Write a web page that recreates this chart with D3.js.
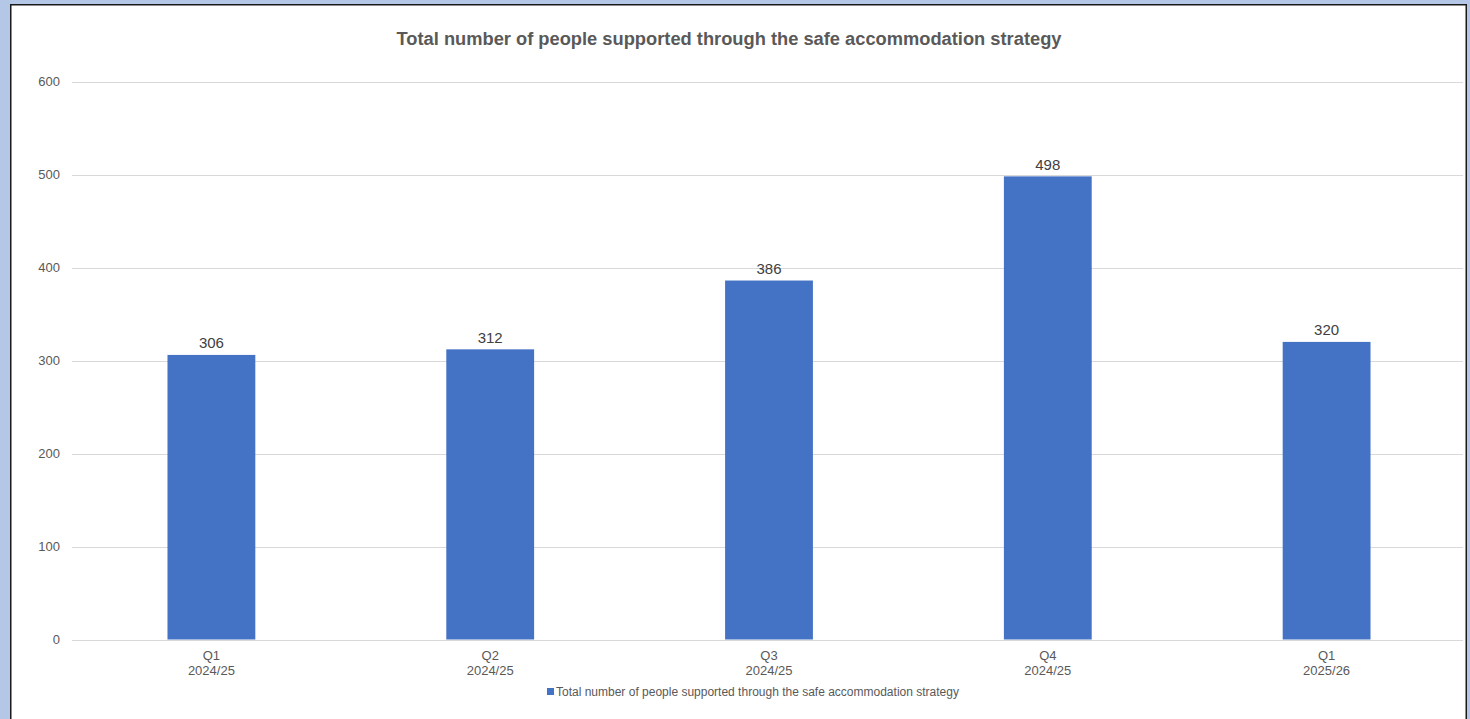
<!DOCTYPE html>
<html>
<head>
<meta charset="utf-8">
<script src="https://cdn.jsdelivr.net/npm/d3@7"></script>
<style>
  html, body { margin: 0; padding: 0; background: #b4c7e7; }
  svg { display: block; }
</style>
</head>
<body>
<svg id="chart"></svg>
<script>
// chart values
let categories = ['Q1 2024/25', 'Q2 2024/25', 'Q3 2024/25', 'Q4 2024/25', 'Q1 2025/26']
let values = [306, 312, 386, 498, 320]
let yTicks = [0, 100, 200, 300, 400, 500, 600]
let title = 'Total number of people supported through the safe accommodation strategy'
let seriesName = 'Total number of people supported through the safe accommodation strategy'

let width = 1470, height = 719
let svg = d3.select('#chart')
            .attr('width', width)
            .attr('height', height)

// white panel with dark border
svg.append('rect')
    .attr('x', 10.75)
    .attr('y', 4.75)
    .attr('width', 1455.5)
    .attr('height', 720)
    .attr('fill', 'white')
    .attr('stroke', '#1a1a1a')
    .attr('stroke-width', 1.5)

let margin = {left: 72, right: 1466, top: 81.5, bottom: 639.5}

let x = d3.scaleBand()
            .domain(categories)
            .range([margin.left, margin.right])
            .paddingInner(0.685)
            .paddingOuter(0.3425)

let y = d3.scaleLinear()
            .domain([0, 600])
            .range([margin.bottom, margin.top])

// gridlines
svg.selectAll('.grid')
    .data(yTicks)
    .enter()
    .append('line')
    .attr('x1', margin.left)
    .attr('x2', margin.right - 3)
    .attr('y1', (d) => Math.round(y(d)) + 0.5)
    .attr('y2', (d) => Math.round(y(d)) + 0.5)
    .attr('stroke', '#d9d9d9')
    .attr('stroke-width', 1)

// y labels
let yAxis = d3.axisLeft(y).tickValues(yTicks).tickSize(0).tickPadding(0)
let yg = svg.append('g')
    .attr('transform', 'translate(60,0)')
    .call(yAxis)
yg.select('.domain').remove()
yg.selectAll('text')
    .attr('font-family', 'Liberation Sans, Arial, sans-serif')
    .attr('font-size', '13px')
    .attr('fill', '#595959')

// bars
svg.selectAll('.bar')
    .data(values)
    .enter()
    .append('rect')
    .attr('x', (d, i) => x(categories[i]))
    .attr('y', (d) => y(d))
    .attr('width', x.bandwidth())
    .attr('height', (d) => y(0) - y(d))
    .attr('fill', '#4472c4')

// data labels
svg.selectAll('.lbl')
    .data(values)
    .enter()
    .append('text')
    .text((d) => d)
    .attr('x', (d, i) => x(categories[i]) + x.bandwidth() / 2)
    .attr('y', (d) => y(d) - 6.5)
    .attr('text-anchor', 'middle')
    .attr('font-family', 'Liberation Sans, Arial, sans-serif')
    .attr('font-size', '15px')
    .attr('fill', '#404040')

// category labels, two lines
let cat = svg.selectAll('.cat')
    .data(categories)
    .enter()
    .append('text')
    .attr('text-anchor', 'middle')
    .attr('font-family', 'Liberation Sans, Arial, sans-serif')
    .attr('font-size', '13px')
    .attr('fill', '#595959')
cat.append('tspan')
    .attr('x', (d) => x(d) + x.bandwidth() / 2)
    .attr('y', 660)
    .text((d) => d.split(' ')[0])
cat.append('tspan')
    .attr('x', (d) => x(d) + x.bandwidth() / 2)
    .attr('y', 675)
    .text((d) => d.split(' ')[1])

// title
svg.append('text')
    .text(title)
    .attr('x', 729)
    .attr('y', 45)
    .attr('text-anchor', 'middle')
    .attr('font-family', 'Liberation Sans, Arial, sans-serif')
    .attr('font-weight', 'bold')
    .attr('font-size', '18.3px')
    .attr('fill', '#595959')

// legend
svg.append('rect')
    .attr('x', 547)
    .attr('y', 688)
    .attr('width', 7)
    .attr('height', 7)
    .attr('fill', '#4472c4')
svg.append('text')
    .text(seriesName)
    .attr('x', 556)
    .attr('y', 695.5)
    .attr('font-family', 'Liberation Sans, Arial, sans-serif')
    .attr('font-size', '12px')
    .attr('fill', '#595959')
</script>
</body>
</html>
